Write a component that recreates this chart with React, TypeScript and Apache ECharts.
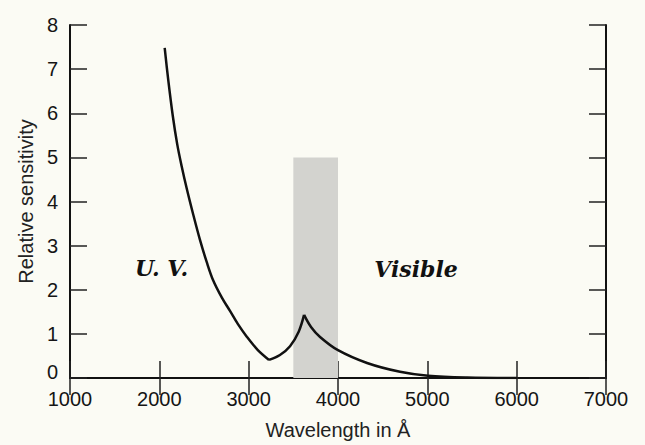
import React, { useEffect, useRef } from "react";
import * as echarts from "echarts";

// Relative sensitivity vs wavelength (Å)
const uvBranch: [number, number][] = [
  [2060, 7.48], [2100, 6.75], [2150, 5.95], [2200, 5.3], [2250, 4.8],
  [2306, 4.3], [2380, 3.7], [2455, 3.13], [2530, 2.63], [2601, 2.22],
  [2700, 1.82], [2791, 1.52], [2880, 1.22], [2981, 0.93], [3100, 0.64],
  [3228, 0.41],
];
const risingBranch: [number, number][] = [
  [3228, 0.41], [3350, 0.52], [3463, 0.72], [3560, 1.05], [3620, 1.43],
];
const visibleBranch: [number, number][] = [
  [3620, 1.43], [3700, 1.15], [3799, 0.93], [4000, 0.63], [4325, 0.34],
  [4694, 0.14], [5008, 0.05], [5444, 0.01], [6000, 0.0],
];
// shaded band: [xStart, xEnd, yTop]
const bandRange = [3500, 4000, 5];
const regionLabels = [
  { text: "U. V.", x: 2025, y: 2.5 },
  { text: "Visible", x: 4873, y: 2.47 },
];
const xTicks = { min: 1000, max: 7000, step: 1000 };
const yTicks = { min: 0, max: 8, step: 1 };

export default function App() {
  const ref = useRef<HTMLDivElement>(null);
  useEffect(() => {
    document.body.style.margin = "0";
    const chart = echarts.init(ref.current!, null, { renderer: "svg" });
    const font = "'Liberation Sans', Arial, sans-serif";
    const axisLine = { lineStyle: { color: "#111", width: 2 } };
    const tick = { inside: true, length: 17, lineStyle: { color: "#222", width: 1.5 } };
    const lbl = { fontSize: 20, color: "#151515", fontFamily: font };
    const lineSeries = (data: [number, number][]) => ({
      type: "line",
      data,
      smooth: 0.35,
      symbol: "none",
      z: 3,
      lineStyle: { color: "#111", width: 2.5 },
      xAxisIndex: 0,
      yAxisIndex: 0,
    });
    chart.setOption({
      animation: false,
      backgroundColor: "#fbfbf4",
      grid: { left: 70, right: 39, top: 25, bottom: 67, containLabel: false },
      xAxis: [
        {
          type: "value", min: xTicks.min, max: xTicks.max, interval: xTicks.step,
          position: "bottom", axisLine, axisTick: tick, splitLine: { show: false },
          axisLabel: { ...lbl, margin: 11, formatter: (v: number) => String(v) },
          name: "Wavelength in Å", nameLocation: "middle", nameGap: 42,
          nameTextStyle: { fontSize: 20, color: "#222", fontFamily: font },
        },
        {
          type: "value", min: xTicks.min, max: xTicks.max, interval: xTicks.step,
          position: "top", axisLine, axisTick: tick, splitLine: { show: false },
          axisLabel: { show: false },
        },
      ],
      yAxis: [
        {
          type: "value", min: yTicks.min, max: yTicks.max, interval: yTicks.step,
          position: "left", axisLine, axisTick: tick, splitLine: { show: false },
          axisLabel: {
            ...lbl,
            margin: 12,
            formatter: (v: number) => (v === yTicks.min ? `{low|${v}}` : String(v)),
            rich: {
              low: { fontSize: 20, color: "#151515", fontFamily: font, padding: [0, 0, 12, 0] },
            },
          },
          name: "Relative sensitivity", nameLocation: "middle", nameGap: 34,
          nameTextStyle: { fontSize: 20, color: "#222", fontFamily: font },
        },
        {
          type: "value", min: yTicks.min, max: yTicks.max, interval: yTicks.step,
          position: "right", axisLine, axisTick: tick, splitLine: { show: false },
          axisLabel: { show: false },
        },
      ],
      series: [
        {
          type: "line",
          data: [],
          z: 1,
          markArea: {
            silent: true,
            itemStyle: { color: "#d3d3cf", opacity: 1 },
            data: [[{ coord: [bandRange[0], 0] }, { coord: [bandRange[1], bandRange[2]] }]],
          },
          markPoint: {
            symbol: "rect",
            symbolSize: 1,
            itemStyle: { color: "rgba(0,0,0,0)" },
            label: {
              show: true,
              position: "inside",
              formatter: (p: any) => p.name,
              fontFamily: "'DejaVu Serif', serif",
              fontStyle: "italic",
              fontWeight: "bold",
              fontSize: 22,
              color: "#111",
            },
            data: regionLabels.map((r) => ({ name: r.text, coord: [r.x, r.y] })),
          },
        },
        lineSeries(uvBranch),
        lineSeries(risingBranch),
        lineSeries(visibleBranch),
      ],
    });
    return () => chart.dispose();
  }, []);
  return <div ref={ref} style={{ width: 645, height: 445 }} />;
}
